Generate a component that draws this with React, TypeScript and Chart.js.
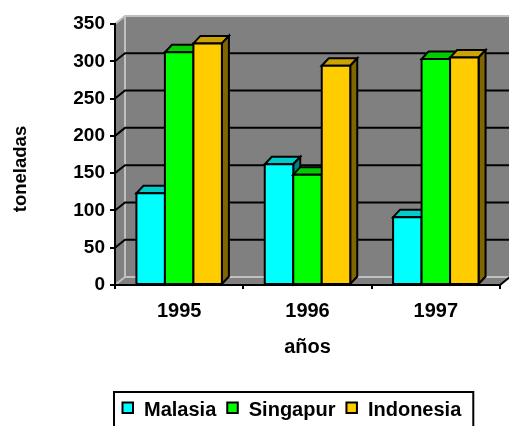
import React, { useEffect, useRef } from 'react';
import { Chart, registerables } from 'chart.js';

Chart.register(...registerables);

// ---- data ----
const categories = ['1995', '1996', '1997'];
const seriesNames = ['Malasia', 'Singapur', 'Indonesia'];
const malasia = [123, 162, 91];
const singapur = [312, 148, 303];
const indonesia = [324, 294, 305];
const yMin = 0;
const yMax = 350;
const yStep = 50;
const yTitle = 'toneladas';
const xTitle = 'años';

// ---- styles ----
const frontColors = ['#00FFFF', '#00FF00', '#FFCC00'];
const topColors = ['#00CCCC', '#00CC00', '#CCA300'];
const sideColors = ['#008080', '#008000', '#806600'];
const FONT = "'Liberation Sans', Arial, Helvetica, sans-serif";
const WALL = '#808080';
const EDGE = '#C0C0C0';
const DX = 10; // box depth
const DY = -8;
const BDX = 7; // bar depth
const BDY = -7.5;

type Pt = [number, number];

function poly(ctx: CanvasRenderingContext2D, pts: Pt[], fill?: string, stroke?: string, lw = 2) {
  ctx.beginPath();
  ctx.moveTo(pts[0][0], pts[0][1]);
  for (let k = 1; k < pts.length; k++) ctx.lineTo(pts[k][0], pts[k][1]);
  ctx.closePath();
  if (fill) {
    ctx.fillStyle = fill;
    ctx.fill();
  }
  if (stroke) {
    ctx.strokeStyle = stroke;
    ctx.lineWidth = lw;
    ctx.stroke();
  }
}

function line(ctx: CanvasRenderingContext2D, pts: Pt[], color: string, lw = 2) {
  ctx.beginPath();
  ctx.moveTo(pts[0][0], pts[0][1]);
  for (let k = 1; k < pts.length; k++) ctx.lineTo(pts[k][0], pts[k][1]);
  ctx.strokeStyle = color;
  ctx.lineWidth = lw;
  ctx.stroke();
}

const wallsPlugin = {
  id: 'walls3d',
  beforeDraw(chart: any) {
    const { ctx, chartArea: a } = chart;
    const ys = chart.scales.y;
    const L = a.left, R = a.right, T = a.top, B = a.bottom;
    ctx.save();
    ctx.lineJoin = 'miter';
    poly(ctx, [[L + DX, T + DY], [R + DX, T + DY], [R + DX, B + DY], [L + DX, B + DY]], WALL);
    poly(ctx, [[L, T], [L + DX, T + DY], [L + DX, B + DY], [L, B]], WALL);
    poly(ctx, [[L, B], [R, B], [R + DX, B + DY], [L + DX, B + DY]], WALL);
    // light edges
    line(ctx, [[L, T], [L + DX, T + DY], [R + DX + 5, T + DY]], EDGE);
    line(ctx, [[L + DX, T + DY], [L + DX, B + DY], [R + DX, B + DY]], EDGE);
    line(ctx, [[L, B], [L + DX, B + DY]], EDGE);
    // grid lines on side + back wall
    ys.ticks.forEach((t: any) => {
      if (t.value <= ys.min || t.value >= ys.max) return;
      const py = ys.getPixelForValue(t.value);
      line(ctx, [[L, py], [L + DX, py + DY], [R + DX + 5, py + DY]], '#000');
    });
    // floor right edge
    line(ctx, [[R, B], [R + DX, B + DY]], '#000');
    ctx.restore();
  },
};

const barsPlugin = {
  id: 'bars3d',
  beforeDatasetsDraw(chart: any) {
    const ctx: CanvasRenderingContext2D = chart.ctx;
    const n = chart.data.labels.length;
    ctx.save();
    ctx.lineJoin = 'miter';
    for (let j = 0; j < n; j++) {
      for (let i = 0; i < chart.data.datasets.length; i++) {
        const el = chart.getDatasetMeta(i).data[j];
        const { x, y, base, width } = el.getProps(['x', 'y', 'base', 'width'], true);
        const l = x - width / 2;
        const r = x + width / 2;
        poly(ctx, [[l, y], [r, y], [r + BDX, y + BDY], [l + BDX, y + BDY]], topColors[i], '#000');
        poly(ctx, [[r, y], [r + BDX, y + BDY], [r + BDX, base + BDY], [r, base]], sideColors[i], '#000');
        poly(ctx, [[l, y], [r, y], [r, base], [l, base]], frontColors[i], '#000');
      }
    }
    ctx.restore();
    return false;
  },
};

const textPlugin = {
  id: 'texts',
  afterDraw(chart: any) {
    const { ctx, chartArea: a } = chart;
    ctx.save();
    ctx.fillStyle = '#000';
    // y title
    ctx.save();
    ctx.font = `bold 18.5px ${FONT}`;
    ctx.translate(26, 169);
    ctx.rotate(-Math.PI / 2);
    ctx.textAlign = 'center';
    ctx.textBaseline = 'alphabetic';
    ctx.fillText(yTitle, 0, 0);
    ctx.restore();
    // x title
    ctx.font = `bold 20px ${FONT}`;
    ctx.textAlign = 'center';
    ctx.textBaseline = 'alphabetic';
    ctx.fillText(xTitle, (a.left + a.right) / 2, 353);
    // legend
    ctx.textAlign = 'left';
    const sq = 10.5;
    let x = 122.5;
    const startX = x;
    chart.data.datasets.forEach((ds: any, i: number) => {
      ctx.fillStyle = frontColors[i];
      ctx.fillRect(x, 402.5, sq, sq);
      ctx.strokeStyle = '#000';
      ctx.lineWidth = 2;
      ctx.strokeRect(x, 402.5, sq, sq);
      x += sq + 11;
      ctx.fillStyle = '#000';
      ctx.fillText(ds.label, x, 416);
      x += ctx.measureText(ds.label).width;
      if (i < chart.data.datasets.length - 1) x += 11;
    });
    ctx.strokeStyle = '#000';
    ctx.lineWidth = 2;
    ctx.strokeRect(startX - 8.5, 392, x + 12 - (startX - 8.5), 40);
    ctx.restore();
  },
};

export default function App() {
  const ref = useRef<HTMLCanvasElement | null>(null);
  useEffect(() => {
    if (!ref.current) return;
    const seriesValues = [malasia, singapur, indonesia];
    const chart = new Chart(ref.current, {
      type: 'bar',
      data: {
        labels: categories,
        datasets: seriesNames.map((name, i) => ({
          label: name,
          data: seriesValues[i],
          backgroundColor: frontColors[i],
          borderColor: '#000',
          borderWidth: 2,
          categoryPercentage: 0.666,
          barPercentage: 1,
        })),
      },
      options: {
        responsive: false,
        animation: false,
        devicePixelRatio: 1,
        layout: { padding: { top: 24, right: 9, left: 0, bottom: 0 } },
        plugins: {
          legend: { display: false },
          tooltip: { enabled: false },
        },
        scales: {
          x: {
            type: 'category',
            grid: {
              display: true,
              drawOnChartArea: false,
              drawTicks: true,
              tickLength: 4,
              tickWidth: 2,
              tickColor: '#000',
              color: '#000',
              lineWidth: 2,
              offset: true,
            },
            border: { display: true, color: '#000', width: 2 },
            ticks: {
              color: '#000',
              font: { family: FONT, size: 20, weight: 'bold' },
              padding: 10,
              maxRotation: 0,
            },
            afterFit: (s: any) => {
              s.height = 141;
            },
          },
          y: {
            min: yMin,
            max: yMax,
            grid: {
              display: true,
              drawOnChartArea: false,
              drawTicks: true,
              tickLength: 5,
              tickWidth: 2,
              tickColor: '#000',
              color: '#000',
              lineWidth: 2,
            },
            border: { display: true, color: '#000', width: 2 },
            ticks: {
              stepSize: yStep,
              color: '#000',
              font: { family: FONT, size: 19, weight: 'bold' },
              padding: 5,
            },
            afterFit: (s: any) => {
              s.width = 115;
            },
          },
        },
      } as any,
      plugins: [wallsPlugin, barsPlugin, textPlugin],
    });
    return () => chart.destroy();
  }, []);
  return (
    <canvas
      ref={ref}
      width={509}
      height={426}
      style={{ position: 'fixed', left: 0, top: 0, width: 509, height: 426, display: 'block', background: '#fff' }}
    />
  );
}
